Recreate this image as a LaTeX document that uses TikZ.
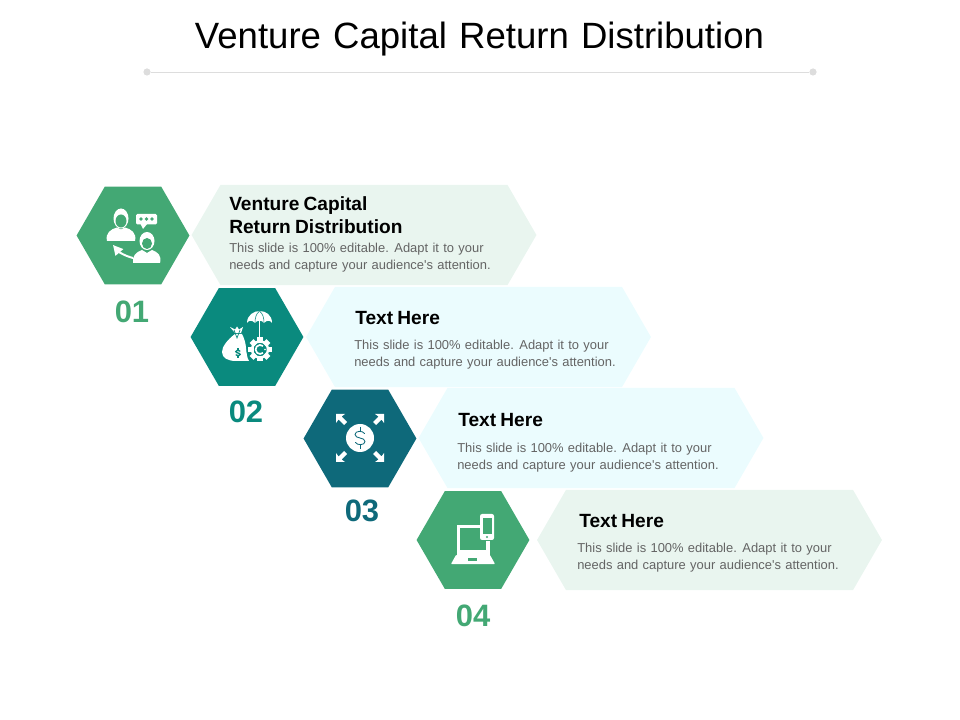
\documentclass[tikz,border=0pt]{standalone}
\usepackage{fontspec}
\setmainfont{Liberation Sans}
\newfontfamily\titlefont[WordSpace=1.28]{Liberation Sans}
\newfontface\headfont[WordSpace=0.8]{Liberation Sans Bold}
\newfontfamily\bodyfont[WordSpace=1.2]{Liberation Sans}
\usetikzlibrary{shapes.geometric, shapes.symbols, arrows.meta, positioning}
\definecolor{hexgreen}{RGB}{67, 168, 116}
\definecolor{hexteal}{RGB}{10, 138, 126}
\definecolor{hexpetrol}{RGB}{14, 105, 122}
\definecolor{panelgreen}{RGB}{233, 245, 239}
\definecolor{panelblue}{RGB}{235, 252, 254}
\definecolor{rulegray}{RGB}{221, 221, 221}
\definecolor{bodygray}{RGB}{100, 100, 100}

\begin{document}
\begin{tikzpicture}[
    x=0.025cm, y=-0.025cm,
    hexa/.style={regular polygon, regular polygon sides=6, minimum size=2.82cm, inner sep=0pt, outer sep=0pt},
    panel/.style={signal, signal to=west and east, signal pointer angle=120, minimum width=8.62cm, minimum height=2.5cm, inner sep=0pt, outer sep=0pt},
    number/.style={font=\fontsize{22}{24}\selectfont\bfseries, inner sep=0pt},
    heading/.style={anchor=west, align=left, inner sep=0pt, font=\headfont\fontsize{13.6}{16.2}\selectfont},
    body/.style={anchor=west, align=left, inner sep=0pt, text=bodygray, font=\bodyfont\fontsize{9.2}{11.8}\selectfont},
    ruledot/.style={circle, fill=rulegray, minimum size=0.18cm, inner sep=0pt},
    icon/.style={fill=white, draw=none},
    dollarsign/.pic={
        \draw[line cap=round] (4.5,-4.5) .. controls (3,-7.5) and (-5,-7.5) .. (-5,-3.5) .. controls (-5,1) and (5,-1) .. (5,3.5) .. controls (5,7.5) and (-3,7.5) .. (-4.5,4.5);
        \draw (0,-11) -- (0,-7);
        \draw (0,7) -- (0,11);
    }
]
    \useasboundingbox (0,0) rectangle (960,720);

    % Title
    \node[font=\titlefont\fontsize{26}{30}\selectfont, inner sep=0pt] (title) at (479.5,39) {Venture Capital Return Distribution};
    \node[ruledot] (ruleleft) at (147,72) {};
    \node[ruledot] (ruleright) at (813,72) {};
    \draw[rulegray, line width=0.7pt] (ruleleft) -- (ruleright);

    % Panels
    \node[panel, fill=panelgreen] (panel1) at (364,235) {};
    \node[panel, fill=panelblue] (panel2) at (478.5,337) {};
    \node[panel, fill=panelblue] (panel3) at (591,438) {};
    \node[panel, fill=panelgreen] (panel4) at (709.5,540) {};

    % Hexagons
    \node[hexa, fill=hexgreen] (hex1) at (133,235.5) {};
    \node[hexa, fill=hexteal] (hex2) at (247,337) {};
    \node[hexa, fill=hexpetrol] (hex3) at (360,438.5) {};
    \node[hexa, fill=hexgreen] (hex4) at (473,540) {};

    % Numbers
    \node[number, text=hexgreen] (num1) at (132,312) {01};
    \node[number, text=hexteal] (num2) at (246,412) {02};
    \node[number, text=hexpetrol] (num3) at (362,511) {03};
    \node[number, text=hexgreen] (num4) at (473,616) {04};

    % Texts
    \node[heading] (head1) at (229,215.5) {Venture Capital\\Return Distribution};
    \node[body] (body1) at (229,257.5) {This slide is 100\% editable. Adapt it to your\\needs and capture your audience's attention.};
    \node[heading] (head2) at (355,318) {Text Here};
    \node[body] (body2) at (354,354.5) {This slide is 100\% editable. Adapt it to your\\needs and capture your audience's attention.};
    \node[heading] (head3) at (458,420) {Text Here};
    \node[body] (body3) at (457,457.5) {This slide is 100\% editable. Adapt it to your\\needs and capture your audience's attention.};
    \node[heading] (head4) at (579,521) {Text Here};
    \node[body] (body4) at (577,557.5) {This slide is 100\% editable. Adapt it to your\\needs and capture your audience's attention.};

    % Icon 1
    \fill[icon] (121,218.5) ellipse (7.5 and 10);
    \fill[hexgreen] (121,221) ellipse (5.5 and 6.5);
    \fill[icon] (107,241) .. controls (105,233) and (111,229) .. (117,227.5) -- (121,229.5) -- (125,227.5) .. controls (131,229) and (137,233) .. (135,241) -- cycle;
    \fill[icon, rounded corners=1pt] (136,214) rectangle (157,224.5);
    \fill[icon] (140,223) -- (143,229) -- (148,223) -- cycle;
    \foreach \dx in {141,146.5,152} \fill[hexgreen] (\dx,219) circle (1.9);
    \fill[icon] (147,241) ellipse (7.5 and 9);
    \fill[hexgreen] (147,243.5) ellipse (5 and 5.5);
    \fill[icon] (133,263) .. controls (132,256) and (136,252) .. (142,250) -- (147,253) -- (152,250) .. controls (158,252) and (162,256) .. (160,263) -- cycle;
    \draw[white, line width=1.4pt, -{Triangle[length=7pt,width=7pt]}] (133,258) .. controls (125,256) and (119,252) .. (113,245);

    % Icon 2
    \fill[icon] (235,334) .. controls (227,340) and (222,347) .. (222,352) .. controls (222,358) and (228,361) .. (236,361) -- (249,361) .. controls (245,355) and (248,345) .. (242,334) -- cycle;
    \fill[icon] (230,327) -- (235,329.5) -- (237,326.5) -- (239,329.5) -- (243,327) -- (241,333) -- (235,333) -- cycle;
    \draw[hexteal, line width=0.5pt] (234,330) -- (237,338) -- (240,330);
    \pic[hexteal, scale=0.42, line width=1pt] (dollar2) at (238,353) {dollarsign};
    \fill[hexteal] (260,349.5) circle (13.5);
    \foreach \a in {0,45,...,315} \fill[icon, rotate around={\a:(260,349.5)}] (257.2,337.5) rectangle (262.8,343);
    \draw[white, line width=1.7pt] (260,349.5) circle (8);
    \draw[white, line width=1.2pt] (263,346) arc (-50:-310:4.5);
    \fill[icon] (265,349.5) circle (0.9);
    \fill[icon] (247,323) .. controls (247,315) and (254,311) .. (259.5,311) .. controls (266,311) and (272,315) .. (272,323) .. controls (270,320) and (267,320) .. (264,323) .. controls (262,320) and (257,320) .. (255,323) .. controls (252,320) and (249,320) .. (247,323) -- cycle;
    \draw[hexteal, line width=0.4pt] (259.5,311) .. controls (256,314) and (255,318) .. (255,323);
    \draw[hexteal, line width=0.4pt] (259.5,311) .. controls (263,314) and (264,318) .. (264,323);
    \draw[white, line width=1.2pt] (259.5,320) -- (259.5,338);

    % Icon 3
    \fill[icon] (360,438) circle (14);
    \pic[hexpetrol, line width=0.6pt] (dollar3) at (360,438) {dollarsign};
    \foreach \sx/\sy in {-1/-1, 1/-1, -1/1, 1/1}
        \fill[icon, shift={(360,438)}, xscale=\sx, yscale=\sy] (24,24) -- (15,24) -- (18.5,21.5) -- (13,16) -- (16,13) -- (21.5,18.5) -- (24,15) -- cycle;

    % Icon 4
    \fill[icon, rounded corners=1.5pt] (480,514) rectangle (494,540);
    \fill[hexgreen] (482.5,518) rectangle (491.5,534);
    \fill[hexgreen] (487,537) circle (1.1);
    \fill[icon] (457,525) rectangle (480,528);
    \fill[icon] (457,525) rectangle (460,556);
    \fill[icon] (457,550) rectangle (489.5,556);
    \fill[icon] (486,541) rectangle (489.5,556);
    \fill[icon, rounded corners=0.5pt] (456,555) -- (490,555) -- (495,564) -- (451,564) -- cycle;
    \fill[hexgreen] (468,558) rectangle (477,560.5);
\end{tikzpicture}
\end{document}
